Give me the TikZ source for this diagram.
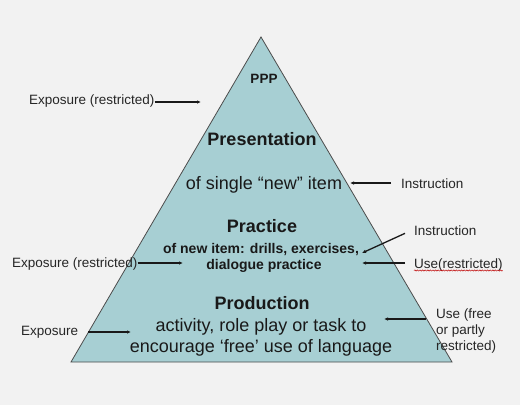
\documentclass[tikz,border=0pt]{standalone}
\usepackage{fontspec}
\setmainfont{Liberation Sans}
\usetikzlibrary{arrows.meta,decorations.pathmorphing}
\definecolor{pyrfill}{RGB}{167,207,211}
\definecolor{pagebg}{RGB}{242,242,242}
\tikzset{%
  head/.style={font=\bfseries\fontsize{18}{21}\selectfont,text=black!90,inner sep=0,anchor=base},
  body/.style={font=\fontsize{18}{21}\selectfont,text=black!90,inner sep=0,anchor=base},
  sub/.style={font=\bfseries\fontsize{14}{16}\selectfont,text=black!90,inner sep=0,anchor=base},
  side/.style={font=\fontsize{13.5}{15.5}\selectfont,text=black!85,inner sep=0,anchor=base west},
  arr/.style={draw=black!90,line width=1.3pt,-{Latex[length=4pt,width=3.5pt]}},
  squiggle/.style={draw=red!75!black,line width=0.5pt,decorate,decoration={snake,amplitude=0.6pt,segment length=2.6pt}}
}

\begin{document}
\begin{tikzpicture}[x=1pt,y=-1pt]
    \fill[pagebg] (0,0) rectangle (520,405);
    \useasboundingbox (0,0) rectangle (520,405);
    \path
      (261,37) coordinate (top)
      (452,362) coordinate (br)
      (71,362) coordinate (bl);
    \filldraw[fill=pyrfill,draw=black!70,line width=0.8pt] (top) -- (br) -- (bl) -- cycle;
    % text in the pyramid
    \path
      (264,83) node (ppp)[head,font=\bfseries\fontsize{13.5}{16}\selectfont]{PPP}
      (262,145) node (pres)[head]{Presentation}
      (264,189) node (presa)[body]{of single “new” item}
      (262,232) node (prac)[head]{Practice}
      (261,253) node (praca)[sub]{of new item: drills, exercises,}
      (264,269) node (pracb)[sub]{dialogue practice}
      (262,309) node (prod)[head]{Production}
      (261,331) node (proda)[body]{activity, role play or task to}
      (261,352) node (prodb)[body]{encourage ‘free’ use of language};
    % labels at the sides
    \path
      (29,104) node (expa)[side]{Exposure (restricted)}
      (12,267) node (expb)[side]{Exposure (restricted)}
      (21,335) node (expc)[side]{Exposure}
      (401,188) node (insa)[side]{Instruction}
      (414,235) node (insb)[side]{Instruction}
      (414,268) node (usea)[side]{Use(restricted)}
      (436,318) node (useb)[side]{Use (free}
      (436,334) node (usec)[side]{or partly}
      (436,350) node (used)[side]{restricted)};
    \path
      (201,102) coordinate (pa)
      (183,263) coordinate (pb)
      (131,332) coordinate (pc)
      (350,183) coordinate (pd)
      (362,253) coordinate (pe)
      (362,263) coordinate (pf)
      (384,319) coordinate (pg);
    \draw[arr] (expa.east |- pa) -- (pa);
    \draw[arr] (expb.east |- pb) -- (pb);
    \draw[arr] ([xshift=10pt]expc.east |- pc) -- (pc);
    \draw[arr] ([xshift=-10pt]insa.west |- pd) -- (pd);
    \draw[arr] ([xshift=-9pt,yshift=2pt]insb.south west) -- (pe);
    \draw[arr] ([xshift=-9pt]usea.west |- pf) -- (pf);
    \draw[arr] ([xshift=-10pt]useb.west |- pg) -- (pg);
    \draw[squiggle] ([yshift=-2.5pt]usea.base west) -- ([yshift=-2.5pt]usea.base east);
  \end{tikzpicture}
\end{document}
